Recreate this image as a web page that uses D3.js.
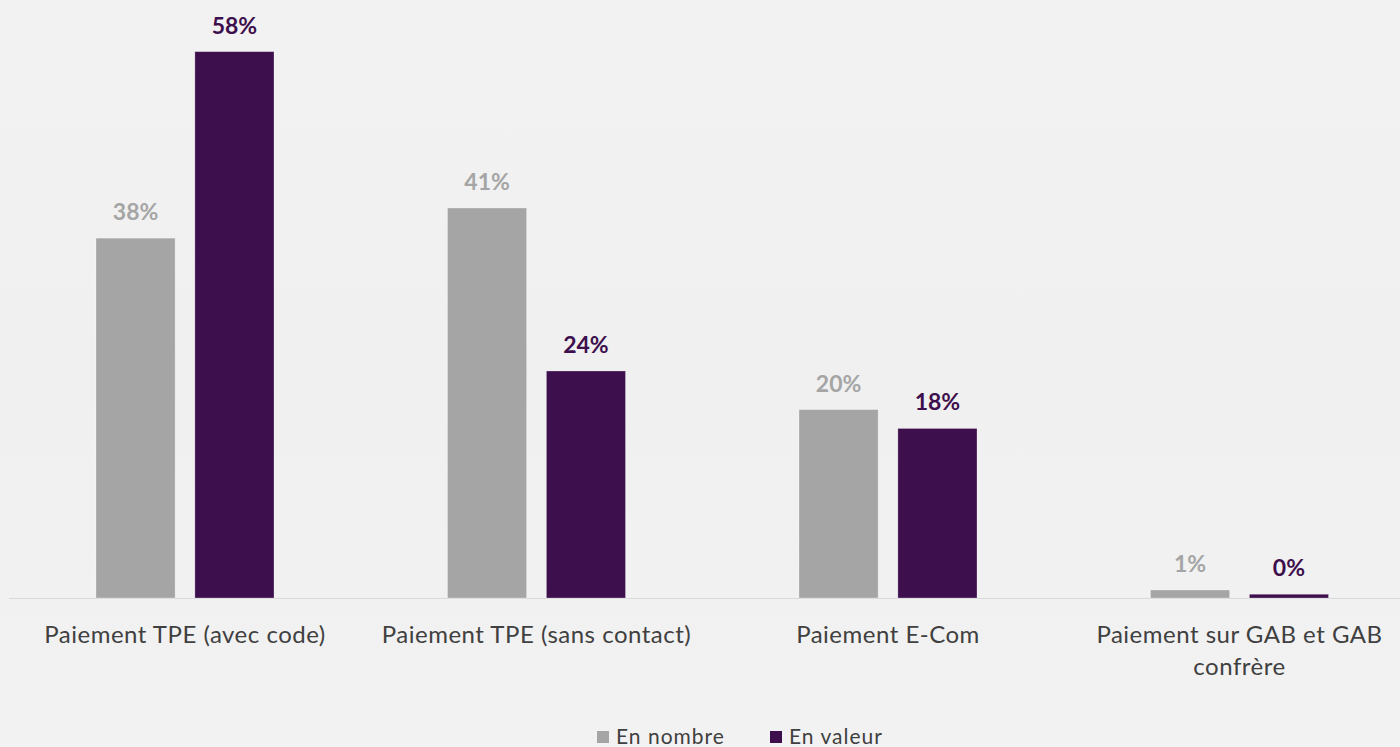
<!DOCTYPE html>
<html><head><meta charset="utf-8">
<script src="https://cdn.jsdelivr.net/npm/d3@7"></script>
<style>
html,body{margin:0;padding:0;background:#f1f1f1;overflow:hidden}
svg{display:block}
</style></head>
<body>
<svg id="c" width="1400" height="747"></svg>
<script>
const categories = [
  ["Paiement TPE (avec code)"],
  ["Paiement TPE (sans contact)"],
  ["Paiement E-Com"],
  ["Paiement sur GAB et GAB", "confrère"]
];
const seriesNames = ["En nombre", "En valeur"];
const enNombre = [38.2, 41.4, 20.0, 0.85];
const enValeur = [58.0, 24.1, 18.0, 0.4];
const labelsNombre = ["38%", "41%", "20%", "1%"];
const labelsValeur = ["58%", "24%", "18%", "0%"];
const colors = ["#a5a5a5", "#3d0f4d"];

const svg = d3.select("#c");
const W = 1400, H = 747;
const font = "Lato, 'Open Sans', sans-serif";

const defs = svg.append("defs");
const g = defs.append("linearGradient").attr("id","bg").attr("x1",0).attr("y1",0).attr("x2",0).attr("y2",1);
g.append("stop").attr("offset","0%").attr("stop-color","#f2f2f2");
g.append("stop").attr("offset","50%").attr("stop-color","#f0f0f0");
g.append("stop").attr("offset","100%").attr("stop-color","#f2f2f2");
svg.append("rect").attr("width",W).attr("height",H).attr("fill","url(#bg)");

const baseY = 598;
const x0 = d3.scaleBand().domain(d3.range(categories.length)).range([9.25, 1415.25]).padding(0);
const x1 = d3.scaleBand().domain(seriesNames).range([-89, 89]).paddingInner(0.2);
const y = d3.scaleLinear().domain([0, 60]).range([baseY, baseY - 60 * 9.42]);

const data = categories.map((c, i) => ({
  i, c,
  vals: [
    {s: seriesNames[0], v: enNombre[i], lab: labelsNombre[i], col: colors[0]},
    {s: seriesNames[1], v: enValeur[i], lab: labelsValeur[i], col: colors[1]}
  ]
}));

// baseline
svg.append("line").attr("x1", 9).attr("x2", W).attr("y1", baseY + 0.5).attr("y2", baseY + 0.5)
  .attr("stroke", "#d9d9d9").attr("stroke-width", 1.2);

const grp = svg.selectAll("g.cat").data(data).join("g").attr("class","cat")
  .attr("transform", d => `translate(${x0(d.i) + x0.bandwidth()/2},0)`);

grp.selectAll("rect").data(d => d.vals).join("rect")
  .attr("x", d => x1(d.s))
  .attr("width", x1.bandwidth())
  .attr("y", d => y(d.v))
  .attr("height", d => baseY - y(d.v))
  .attr("fill", d => d.col)
  .attr("stroke", "rgba(255,255,255,0.35)").attr("stroke-width", 0.8);

grp.selectAll("text.val").data(d => d.vals).join("text").attr("class","val")
  .attr("x", d => x1(d.s) + x1.bandwidth()/2)
  .attr("y", d => y(d.v) - 18)
  .attr("text-anchor","middle")
  .attr("font-family", font).attr("font-weight", 700).attr("font-size", 23)
  .attr("fill", d => d.col)
  .text(d => d.lab);

grp.each(function(d){
  const t = d3.select(this).append("text")
    .attr("text-anchor","middle")
    .attr("font-family", font).attr("font-size", 24).attr("letter-spacing", 0.5).attr("fill", "#404040");
  d.c.forEach((line, k) => {
    t.append("tspan").attr("x", 0).attr("y", 643 + k * 32).text(line);
  });
});

// legend
const legX = [597, 770];
seriesNames.forEach((s, k) => {
  svg.append("rect").attr("x", legX[k]).attr("y", 731).attr("width", 12).attr("height", 12).attr("fill", colors[k]);
  svg.append("text").attr("x", legX[k] + 19).attr("y", 744)
    .attr("font-family", font).attr("font-size", 21).attr("letter-spacing", 1).attr("fill", "#404040").text(s);
});
</script>
</body></html>
